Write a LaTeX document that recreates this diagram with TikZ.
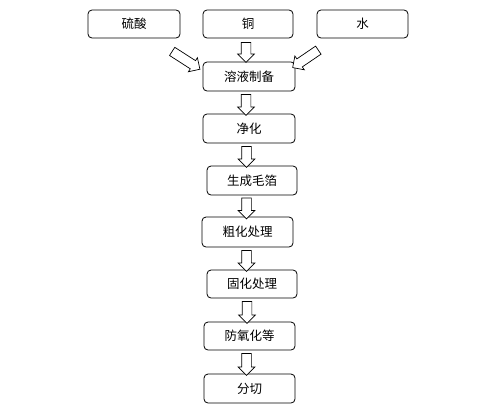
\documentclass[tikz,border=0pt]{standalone}
\usepackage{fontspec}
\setmainfont{Noto Sans CJK SC}
\usetikzlibrary{calc, shapes, arrows}

\begin{document}
\begin{tikzpicture}[x=1pt, y=-1pt,
	stepbox/.style={draw, rounded corners=4pt, line width=0.8pt, minimum height=28pt, inner sep=0pt, font=\fontsize{12.5}{14}\selectfont},
	fatarrow/.style={single arrow, draw, line width=0.7pt, fill=white, inner sep=0pt, inner ysep=4.5pt, single arrow head extend=3.5pt, single arrow tip angle=90, sloped, allow upside down}]
	\useasboundingbox (0,0) rectangle (494,410);
	%Raw materials at the top
	\node [stepbox, minimum width=92pt] (acid) at (134,24) {硫酸};
	\node [stepbox, minimum width=90pt] (copper) at (248,24) {铜};
	\node [stepbox, minimum width=91pt] (water) at (362.5,24) {水};
	%Process steps
	\node [stepbox, minimum width=92pt, minimum height=29pt] (prep) at (249,76.5) {溶液制备};
	\node [stepbox, minimum width=92pt, minimum height=29pt] (purify) at (249,128.5) {净化};
	\node [stepbox, minimum width=90pt, minimum height=29pt] (foil) at (252,180.5) {生成毛箔};
	\node [stepbox, minimum width=91pt, minimum height=30pt] (rough) at (247.5,232) {粗化处理};
	\node [stepbox, minimum width=90pt] (cure) at (252,284) {固化处理};
	\node [stepbox, minimum width=91pt] (anti) at (249.5,336) {防氧化等};
	\node [stepbox, minimum width=91pt, minimum height=29pt] (cut) at (249.5,388.5) {分切};
	%Side inputs
	\coordinate (inL) at (170,50);
	\coordinate (outL) at (198,68);
	\coordinate (inR) at (320,49);
	\coordinate (outR) at (295,66);
	\path (inL) -- (outL) node [midway, fatarrow, minimum height=33pt] (arrL) {};
	\path (inR) -- (outR) node [midway, fatarrow, minimum height=31pt] (arrR) {};
	%Arrows between the steps
	\path ($(copper.south)+(-2,0)$) -- ($(prep.north -| copper.south)+(-2,0)$) node [midway, fatarrow, minimum height=20pt] (a0) {};
	\path ($(prep.south)+(-3,0)$) -- ($(purify.north -| prep.south)+(-3,0)$) node [midway, fatarrow, minimum height=21pt] (a1) {};
	\path ($(purify.south)+(-2.5,0)$) -- ($(foil.north -| purify.south)+(-2.5,0)$) node [midway, fatarrow, minimum height=21pt] (a2) {};
	\path ($(foil.south)+(-5.5,0)$) -- ($(rough.north -| foil.south)+(-5.5,0)$) node [midway, fatarrow, minimum height=21pt] (a3) {};
	\path ($(rough.south)+(-1,0)$) -- ($(cure.north -| rough.south)+(-1,0)$) node [midway, fatarrow, minimum height=21pt] (a4) {};
	\path ($(cure.south)+(-5,0)$) -- ($(anti.north -| cure.south)+(-5,0)$) node [midway, fatarrow, minimum height=22pt] (a5) {};
	\path ($(anti.south)+(-3,0)$) -- ($(cut.north -| anti.south)+(-3,0)$) node [midway, fatarrow, minimum height=22pt] (a6) {};
\end{tikzpicture}
\end{document}
